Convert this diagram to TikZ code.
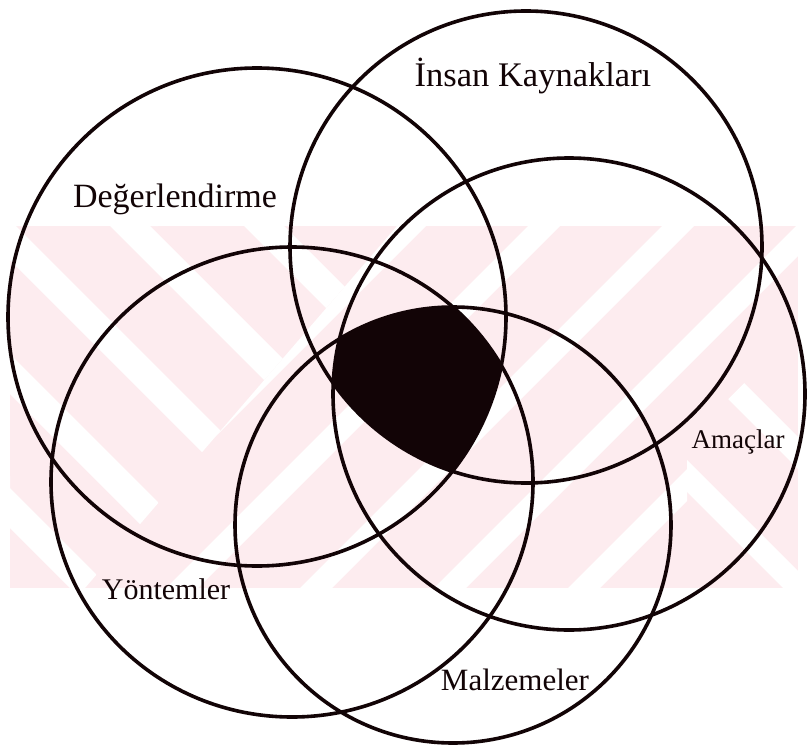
\documentclass[tikz,border=0pt]{standalone}
\usepackage{fontspec}
\setmainfont{Liberation Serif}
\usepackage{tikz}
\definecolor{ink}{RGB}{18,4,6}
\definecolor{wmpink}{RGB}{253,236,239}

\begin{document}
\begin{tikzpicture}[
  x=1pt,y=-1pt,
  ring/.style={draw=ink,line width=3.6pt},
  lbl/.style={font=\fontsize{#1}{#1}\selectfont,inner sep=0pt,anchor=base,text=ink},
  lbl/.default=32,
  band/.style={fill=white,draw=none}
]
\useasboundingbox[fill=white] (0,0) rectangle (808,749);

\coordinate (deg) at (257,317);
\coordinate (ins) at (526,247);
\coordinate (ama) at (569,394);
\coordinate (yon) at (292,482);
\coordinate (mal) at (453,525);

% faint watermark behind the rings
\begin{scope}
  \clip (10,226) rectangle (798,588);
  \fill[wmpink] (10,226) rectangle (798,588);
  \begin{scope}
    \clip (10,226) -- (397,226) -- (85,588) -- (10,588) -- cycle;
    \foreach \k in {-5,...,2}
      \fill[band] ({-250+134*\k},0) -- ++(40,0) -- ++(1000,1000) -- ++(-40,0) -- cycle;
  \end{scope}
  \begin{scope}
    \clip (687,440) -- (808,320) -- (808,588) -- (687,588) -- cycle;
    \foreach \k in {-2,...,3}
      \fill[band] ({195+134*\k},0) -- ++(32,0) -- ++(1000,1000) -- ++(-32,0) -- cycle;
  \end{scope}
  \begin{scope}[even odd rule]
    \clip (10,226) rectangle (798,588)
      (10,226) -- (397,226) -- (85,588) -- (10,588) -- cycle
      (687,440) -- (808,320) -- (808,588) -- (687,588) -- cycle;
    \foreach \k in {-4,...,5}
      \fill[band] ({754+134*\k},0) -- ++(32,0) -- ++(-1000,1000) -- ++(-32,0) -- cycle;
  \end{scope}
\end{scope}

% common part of all five
\begin{scope}
  \clip (deg) circle[radius=249pt];
  \clip (ins) circle[radius=236pt];
  \clip (ama) circle[radius=236pt];
  \clip (yon) ellipse[x radius=241pt,y radius=235pt];
  \fill[ink] (mal) circle[radius=218pt];
\end{scope}

\draw[ring] (deg) circle[radius=249pt];
\draw[ring] (ins) circle[radius=236pt];
\draw[ring] (ama) circle[radius=236pt];
\draw[ring] (yon) ellipse[x radius=241pt,y radius=235pt];
\draw[ring] (mal) circle[radius=218pt];

\node[lbl=34] (degL) at (175,207) {Değerlendirme};
\node[lbl=34.5] (insL) at (533,87) {İnsan Kaynakları};
\node[lbl=27] (amaL) at (738,448) {Amaçlar};
\node[lbl=30] (yonL) at (166,599) {Yöntemler};
\node[lbl=31] (malL) at (515,690) {Malzemeler};
\end{tikzpicture}
\end{document}
